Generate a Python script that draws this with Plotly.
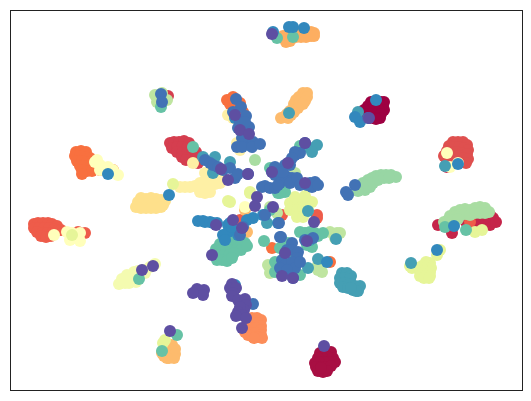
import plotly.graph_objects as go

# embedding points per class: (x, y)
maroon = [(371,102),(376,102),(381,102),(384,102),(368,106),(373,106),(378,106),(383,106),(384,110),(379,110),(374,110),(369,110),(364,110),(362,113),(367,114),(372,114),(377,114),(381,114),(380,118),(375,118),(370,118),(365,117),(376,119)]
wine = [(320,353),(325,352),(331,352),(333,358),(328,357),(322,357),(318,358),(335,362),(329,362),(324,362),(319,362),(315,363),(316,367),(321,367),(326,367),(331,366),(318,371),(323,372),(327,371),(321,368)]
crimson = [(496,222),(493,218),(490,215),(490,225),(485,222),(480,225),(475,224),(470,224),(485,218),(478,220),(471,220),(466,222),(438,225),(452,233),(447,167),(450,228)]
red = [(170,143),(174,142),(179,142),(184,141),(189,143),(172,148),(177,147),(182,147),(187,148),(192,148),(177,152),(182,153),(187,153),(192,153),(196,152),(182,157),(187,158),(192,158),(197,158),(186,160),(193,162),(198,163),(168,96)]
brick = [(453,142),(458,142),(463,142),(467,145),(449,146),(454,147),(459,147),(464,148),(468,150),(447,151),(452,152),(457,152),(462,153),(467,154),(444,156),(449,157),(454,157),(459,156),(464,158),(468,159),(466,163),(447,161),(445,155)]
vermilion = [(34,224),(38,223),(43,223),(48,223),(52,224),(57,226),(34,228),(39,228),(44,228),(49,228),(54,229),(58,230),(37,232),(42,233),(47,233),(52,233),(41,236),(46,237),(51,236),(61,230),(78,232),(85,233),(80,234),(317,215),(317,218),(240,220),(282,215),(470,222)]
tangerine = [(76,152),(81,151),(86,152),(75,156),(80,156),(85,157),(90,158),(77,161),(82,161),(87,162),(92,163),(80,166),(85,166),(90,167),(95,167),(82,170),(87,171),(92,171),(100,170),(82,174),(106,168),(113,170),(272,248),(227,100),(233,97),(240,103),(236,110),(243,112),(230,104),(330,262)]
coral = [(252,318),(257,318),(261,320),(248,322),(253,323),(258,323),(261,326),(246,327),(251,328),(256,328),(261,330),(246,331),(251,333),(256,333),(261,335),(248,335),(253,337),(258,337),(262,338),(254,338),(245,332)]
orange = [(283,36),(287,35),(292,33),(297,32),(302,33),(307,33),(311,32),(314,33),(286,40),(291,39),(296,37),(301,37),(306,37),(311,36),(314,36),(286,42),(290,41)]
apricot = [(303,93),(307,93),(299,97),(304,97),(307,97),(296,100),(301,100),(305,101),(294,104),(299,104),(303,104),(294,108),(298,108),(290,111),(294,112),(287,114),(291,115),(284,117),(288,118),(281,118),(172,345),(175,349),(171,350),(166,351),(162,353),(167,355),(172,355),(175,354),(164,356),(169,358),(174,358),(167,358),(245,210),(247,232)]
sand = [(141,198),(146,199),(151,198),(156,199),(161,200),(165,201),(138,202),(143,203),(148,204),(153,204),(158,204),(163,205),(136,207),(141,208),(146,208),(151,208),(156,208),(161,207)]
cream = [(180,187),(185,187),(190,187),(195,186),(200,183),(205,181),(208,178),(205,173),(210,172),(202,188),(207,188),(200,192),(205,193),(210,192),(215,184),(220,183),(222,178),(193,163),(228,115),(237,143),(240,150),(233,118)]
ivory = [(97,160),(100,165),(104,170),(100,170),(108,167),(113,170),(118,175),(110,172),(95,162),(54,235),(67,232),(72,233),(80,233),(80,241),(70,240),(75,238),(447,153),(458,163),(450,167),(245,207)]
pale_lime = [(119,284),(122,279),(125,283),(127,275),(130,279),(134,272),(138,271),(133,278),(138,278),(143,270),(145,273),(150,267),(155,264),(129,283),(136,282)]
lime = [(430,263),(426,262),(422,266),(427,266),(431,268),(412,268),(417,268),(410,266),(420,271),(425,271),(430,272),(420,276),(425,276),(430,276),(424,278),(429,278),(440,250),(437,255),(290,203),(295,203),(300,200),(307,200),(312,202),(290,210),(297,210),(303,208),(308,210),(297,217),(303,217),(295,197),(305,196),(250,193),(228,201),(173,184),(230,202),(165,340),(163,343),(72,235),(475,232),(482,230),(250,192)]
sage = [(155,95),(162,93),(167,100),(157,102),(270,273),(268,265),(270,268),(275,268),(318,270),(320,268),(318,265),(322,272),(305,233),(330,232),(335,238),(337,233),(340,233),(270,207),(277,213),(295,173)]
leaf = [(455,212),(460,210),(465,209),(470,210),(475,208),(480,207),(485,208),(489,212),(450,216),(455,216),(460,215),(465,214),(470,215),(475,213),(480,213),(485,213),(448,220),(453,220),(458,219),(444,222),(255,160)]
mint = [(363,183),(368,180),(372,178),(376,176),(381,175),(386,175),(391,175),(396,177),(368,185),(373,183),(378,180),(384,178),(389,178),(365,190),(370,187),(363,188),(358,191)]
seafoam = [(225,240),(230,238),(235,240),(240,243),(245,243),(220,244),(225,245),(230,245),(235,245),(240,247),(216,249),(221,250),(226,250),(231,250),(236,250),(241,250),(247,246),(214,254),(219,255),(224,255),(229,255),(234,253),(217,260),(222,260),(227,261),(232,258),(139,279),(177,335),(162,351),(193,147),(293,37),(277,38),(300,232),(305,233),(310,232),(315,233),(318,236),(323,233),(312,247),(307,245),(295,257),(275,262),(275,272),(300,275),(280,248),(288,243),(445,227),(466,230),(264,241),(161,107),(278,193),(283,190),(270,210),(270,168),(285,192),(280,193),(300,146)]
teal = [(342,273),(347,273),(351,276),(340,278),(345,278),(350,279),(340,283),(345,283),(350,284),(355,286),(360,286),(343,287),(348,288),(353,290),(358,291),(356,291),(351,288),(411,263),(445,166),(289,113),(308,147),(317,145),(358,112),(308,211),(336,239),(267,223),(308,268),(318,259),(215,157),(213,173),(230,162),(203,157),(312,152),(310,240)]
blue = [(198,221),(203,221),(205,222),(210,222),(213,223),(217,223),(228,225),(230,223),(228,232),(223,235),(225,240),(237,230),(238,235),(232,227),(247,220),(253,218),(263,215),(278,223),(108,174),(169,195),(437,250),(454,226),(458,164),(376,100),(293,27),(304,28),(289,27),(273,32),(355,117),(360,122),(235,118),(327,262),(235,285)]
indigo = [(236,99),(241,107),(233,112),(246,116),(238,128),(249,127),(240,122),(245,122),(244,132),(247,140),(249,145),(246,143),(237,147),(242,138),(253,142),(242,147),(252,147),(260,144),(205,160),(210,163),(213,165),(218,167),(223,170),(230,168),(235,178),(238,174),(248,174),(295,152),(300,153),(295,155),(292,158),(288,163),(285,165),(280,175),(275,175),(287,177),(292,178),(285,180),(275,167),(283,172),(272,172),(280,183),(290,183),(297,178),(262,187),(265,186),(270,188),(275,188),(278,185),(300,185),(307,185),(310,183),(312,187),(315,182),(318,185),(305,143),(290,165),(346,192),(355,185),(348,195),(292,243),(287,250),(292,250),(298,252),(297,258),(282,260),(285,265),(292,262),(295,268),(300,262),(280,268),(287,270),(293,278),(305,240),(313,238),(280,237),(265,215),(243,227),(240,235),(279,223),(281,237),(368,118),(253,304),(161,94),(162,102)]
purple = [(142,270),(153,266),(170,331),(212,255),(242,328),(232,284),(230,288),(236,288),(233,293),(232,296),(238,300),(245,299),(246,305),(244,310),(240,307),(238,312),(242,315),(236,316),(246,318),(197,289),(204,290),(198,291),(203,295),(193,293),(324,346),(216,225),(233,220),(242,228),(257,197),(255,206),(273,207),(314,222),(285,253),(307,241),(282,276),(293,278),(235,115),(240,130),(249,134),(221,169),(228,180),(305,183),(305,143),(248,174),(272,34),(369,118),(288,163),(272,172)]

groups = [maroon, wine, crimson, red, brick, vermilion, tangerine, coral, orange, apricot, sand, cream,
          ivory, pale_lime, lime, sage, leaf, mint, seafoam, teal, blue, indigo, purple]
colors = ['#9e0142', '#a80f43', '#c5254a', '#d53e4f', '#df504f', '#ee5c4a', '#f8703f', '#fc8d59', '#fdae61',
          '#fdbb6d', '#fee08b', '#fef0a5', '#ffffbb', '#f4fbb0', '#e6f598', '#bfe5a0', '#a9dda2', '#98d6a4',
          '#66c2a5', '#459fb4', '#3288bd', '#4272b5', '#5e4fa2']

fig = go.Figure()
for pts, color in zip(groups, colors):
    fig.add_trace(go.Scatter(x=[p[0] for p in pts], y=[p[1] for p in pts], mode='markers',
                             marker=dict(size=12, color=color, opacity=1, line=dict(width=0))))

axis = dict(showline=True, mirror=True, linecolor='#222222', linewidth=1.2,
            showticklabels=False, ticks='', showgrid=False, zeroline=False)
fig.update_xaxes(range=[11, 522], **axis)
fig.update_yaxes(range=[390, 11], **axis)
fig.update_layout(width=531, height=401, margin=dict(l=11, r=9, t=11, b=11),
                  showlegend=False, paper_bgcolor='white', plot_bgcolor='white')

# page default has an 8px body margin
fig.write_html("out.html", config=dict(displayModeBar=False), post_script="document.body.style.margin='0';")
